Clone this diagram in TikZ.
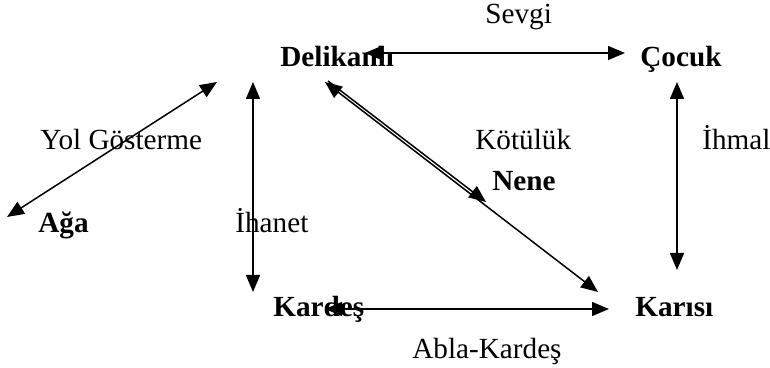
\documentclass[tikz,border=0pt]{standalone}
\usepackage{fontspec}
\setmainfont{Liberation Serif}
\usetikzlibrary{arrows.meta}
\begin{document}
\begin{tikzpicture}[x=0.5pt,y=-0.5pt,
  lbl/.style={anchor=base west,inner sep=0pt,font=\fontsize{14.6}{17}\selectfont},
  boldnode/.style={anchor=base west,inner sep=0pt,font=\fontsize{14.6}{17}\selectfont\bfseries},
  link/.style={line width=0.75pt,{Triangle[length=8.5pt,width=7pt]}-{Triangle[length=8.5pt,width=7pt]}},
  onelink/.style={line width=0.75pt,-{Triangle[length=8.5pt,width=7pt]}}]
\useasboundingbox (0,0) rectangle (770,368);
% nodes
\node[boldnode] (del) at (280,67) {Delikanlı};
\node[boldnode] (coc) at (640,67) {Çocuk};
\node[boldnode] (aga) at (38,233) {Ağa};
\node[boldnode] (nene) at (492,191) {Nene};
\node[boldnode] (kar) at (273,317) {Kardeş};
\node[boldnode] (kari) at (635,317) {Karısı};
% labels
\node[lbl] (sevgi) at (485,24) {Sevgi};
\node[lbl] (yol) at (40,150) {Yol Gösterme};
\node[lbl] (ihanet) at (235,233) {İhanet};
\node[lbl] (kotu) at (475,150) {Kötülük};
\node[lbl] (ihmal) at (702,150) {İhmal};
\node[lbl] (abla) at (412,358) {Abla-Kardeş};
% endpoints
\coordinate (s1) at (365,53);  \coordinate (s2) at (625,53);
\coordinate (y1) at (7,217);   \coordinate (y2) at (217,82);
\coordinate (i1) at (253,82);  \coordinate (i2) at (253,292);
\coordinate (h1) at (677,82);  \coordinate (h2) at (677,270);
\coordinate (k1) at (325,82);  \coordinate (k2) at (598,292);
\coordinate (n1) at (328,81);  \coordinate (n2) at (486,202);
\coordinate (a1) at (325,309); \coordinate (a2) at (609,309);
% connectors
\draw[link] (s1) -- (s2);
\draw[link] (y1) -- (y2);
\draw[link] (i1) -- (i2);
\draw[link] (h1) -- (h2);
\draw[link] (k1) -- (k2);
\draw[onelink] (n1) -- (n2);
\draw[link] (a1) -- (a2);
\end{tikzpicture}
\end{document}
